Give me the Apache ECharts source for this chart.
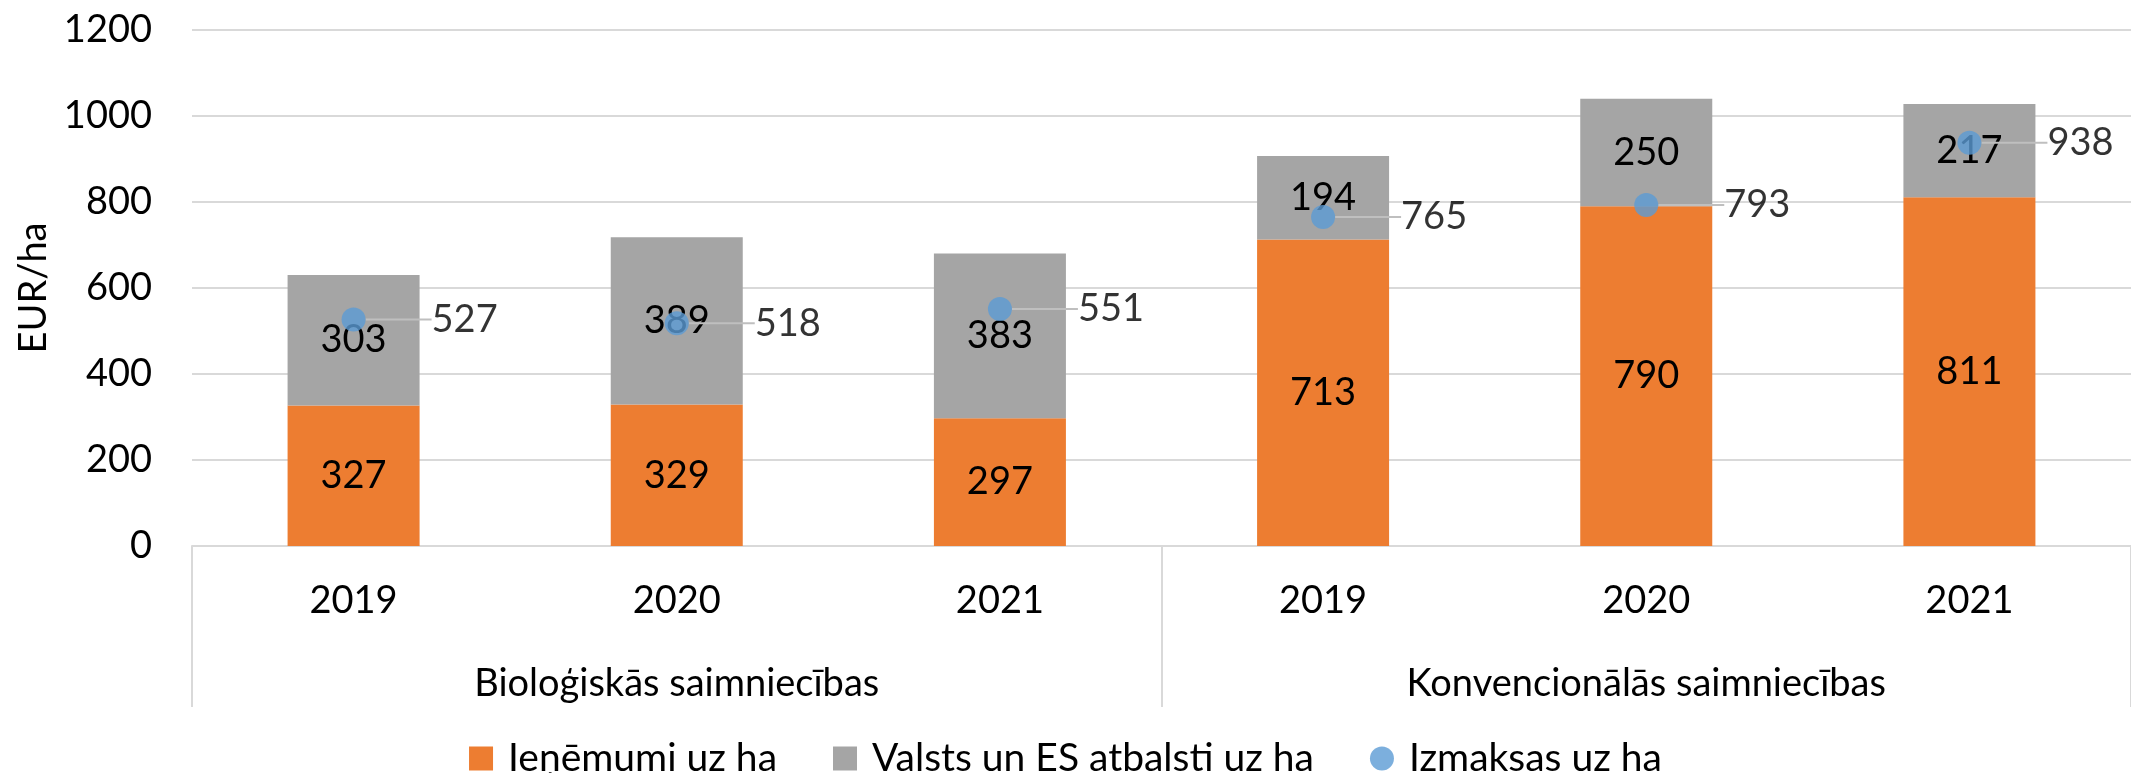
<!DOCTYPE html>
<html>
<head>
<meta charset="utf-8">
<script src="https://cdn.jsdelivr.net/npm/echarts@6/dist/echarts.min.js"></script>
<style>
  html, body { margin: 0; padding: 0; background: #ffffff; }
  #chart { width: 2131px; height: 773px; }
</style>
</head>
<body>
<div id="chart"></div>
<script>
// Dati
const years = ["2019", "2020", "2021", "2019", "2020", "2021"];
const groups = ["Bioloģiskās saimniecības", "Konvencionālās saimniecības"];
const revenue = [327, 329, 297, 713, 790, 811];      // Ieņēmumi uz ha
const support = [303, 389, 383, 194, 250, 217];      // Valsts un ES atbalsti uz ha
const costs = [527, 518, 551, 765, 793, 938];        // Izmaksas uz ha

const FONT = "Lato";
const FS = 38;

const chart = echarts.init(document.getElementById("chart"));

const option = {
  backgroundColor: "#ffffff",
  textStyle: { fontFamily: FONT, color: "#000000" },
  animation: false,
  grid: { left: 192, right: -19, top: 30, height: 516 },
  legend: {
    top: 734,
    left: "center",
    itemWidth: 24,
    itemHeight: 24,
    itemGap: 56,
    formatter: (name) => " " + name,
    textStyle: { fontFamily: FONT, fontSize: 39, color: "#000000" },
    data: [
      { name: "Ieņēmumi uz ha", icon: "rect" },
      { name: "Valsts un ES atbalsti uz ha", icon: "rect" },
      { name: "Izmaksas uz ha", icon: "circle" }
    ]
  },
  xAxis: [
    {
      type: "category",
      data: years,
      gridIndex: 0,
      axisLine: { lineStyle: { color: "#d9d9d9", width: 2 } },
      axisTick: { show: false },
      axisLabel: { fontFamily: FONT, fontSize: FS, color: "#000000", margin: 36 }
    },
    {
      type: "category",
      data: groups,
      gridIndex: 0,
      position: "bottom",
      axisLine: { show: false },
      axisTick: { show: true, length: 161, interval: 0, lineStyle: { color: "#d9d9d9", width: 2 } },
      axisLabel: { fontFamily: FONT, fontSize: FS, color: "#000000", margin: 119 }
    }
  ],
  yAxis: {
    type: "value",
    min: 0,
    max: 1200,
    interval: 200,
    name: "EUR/ha",
    nameLocation: "middle",
    nameGap: 132,
    nameTextStyle: { fontFamily: FONT, fontSize: FS, color: "#000000" },
    axisLine: { show: false },
    axisTick: { show: false },
    axisLabel: {
      fontFamily: FONT, fontSize: FS, color: "#000000", margin: 40,
      formatter: (v) => String(v)
    },
    splitLine: { lineStyle: { color: "#d9d9d9", width: 2 } }
  },
  series: [
    {
      name: "Ieņēmumi uz ha",
      type: "bar",
      stack: "total",
      barWidth: 132,
      data: revenue,
      itemStyle: { color: "#ED7D31" },
      label: { show: true, position: "inside", fontFamily: FONT, fontSize: FS, color: "#000000" }
    },
    {
      name: "Valsts un ES atbalsti uz ha",
      type: "bar",
      stack: "total",
      barWidth: 132,
      data: support,
      itemStyle: { color: "#A5A5A5" },
      label: { show: true, position: "inside", fontFamily: FONT, fontSize: FS, color: "#000000" }
    },
    {
      name: "Izmaksas uz ha",
      type: "scatter",
      data: costs,
      symbol: "circle",
      symbolSize: 24,
      z: 5,
      itemStyle: { color: "#5B9BD5" },
      label: {
        show: true,
        position: "right",
        distance: 4,
        fontFamily: FONT,
        fontSize: FS,
        color: "#000000"
      },
      labelLayout: { dx: 62 },
      labelLine: { show: true, lineStyle: { color: "#bfbfbf", width: 2 } }
    }
  ]
};

chart.setOption(option);
window.addEventListener("resize", () => chart.resize());
</script>
</body>
</html>
